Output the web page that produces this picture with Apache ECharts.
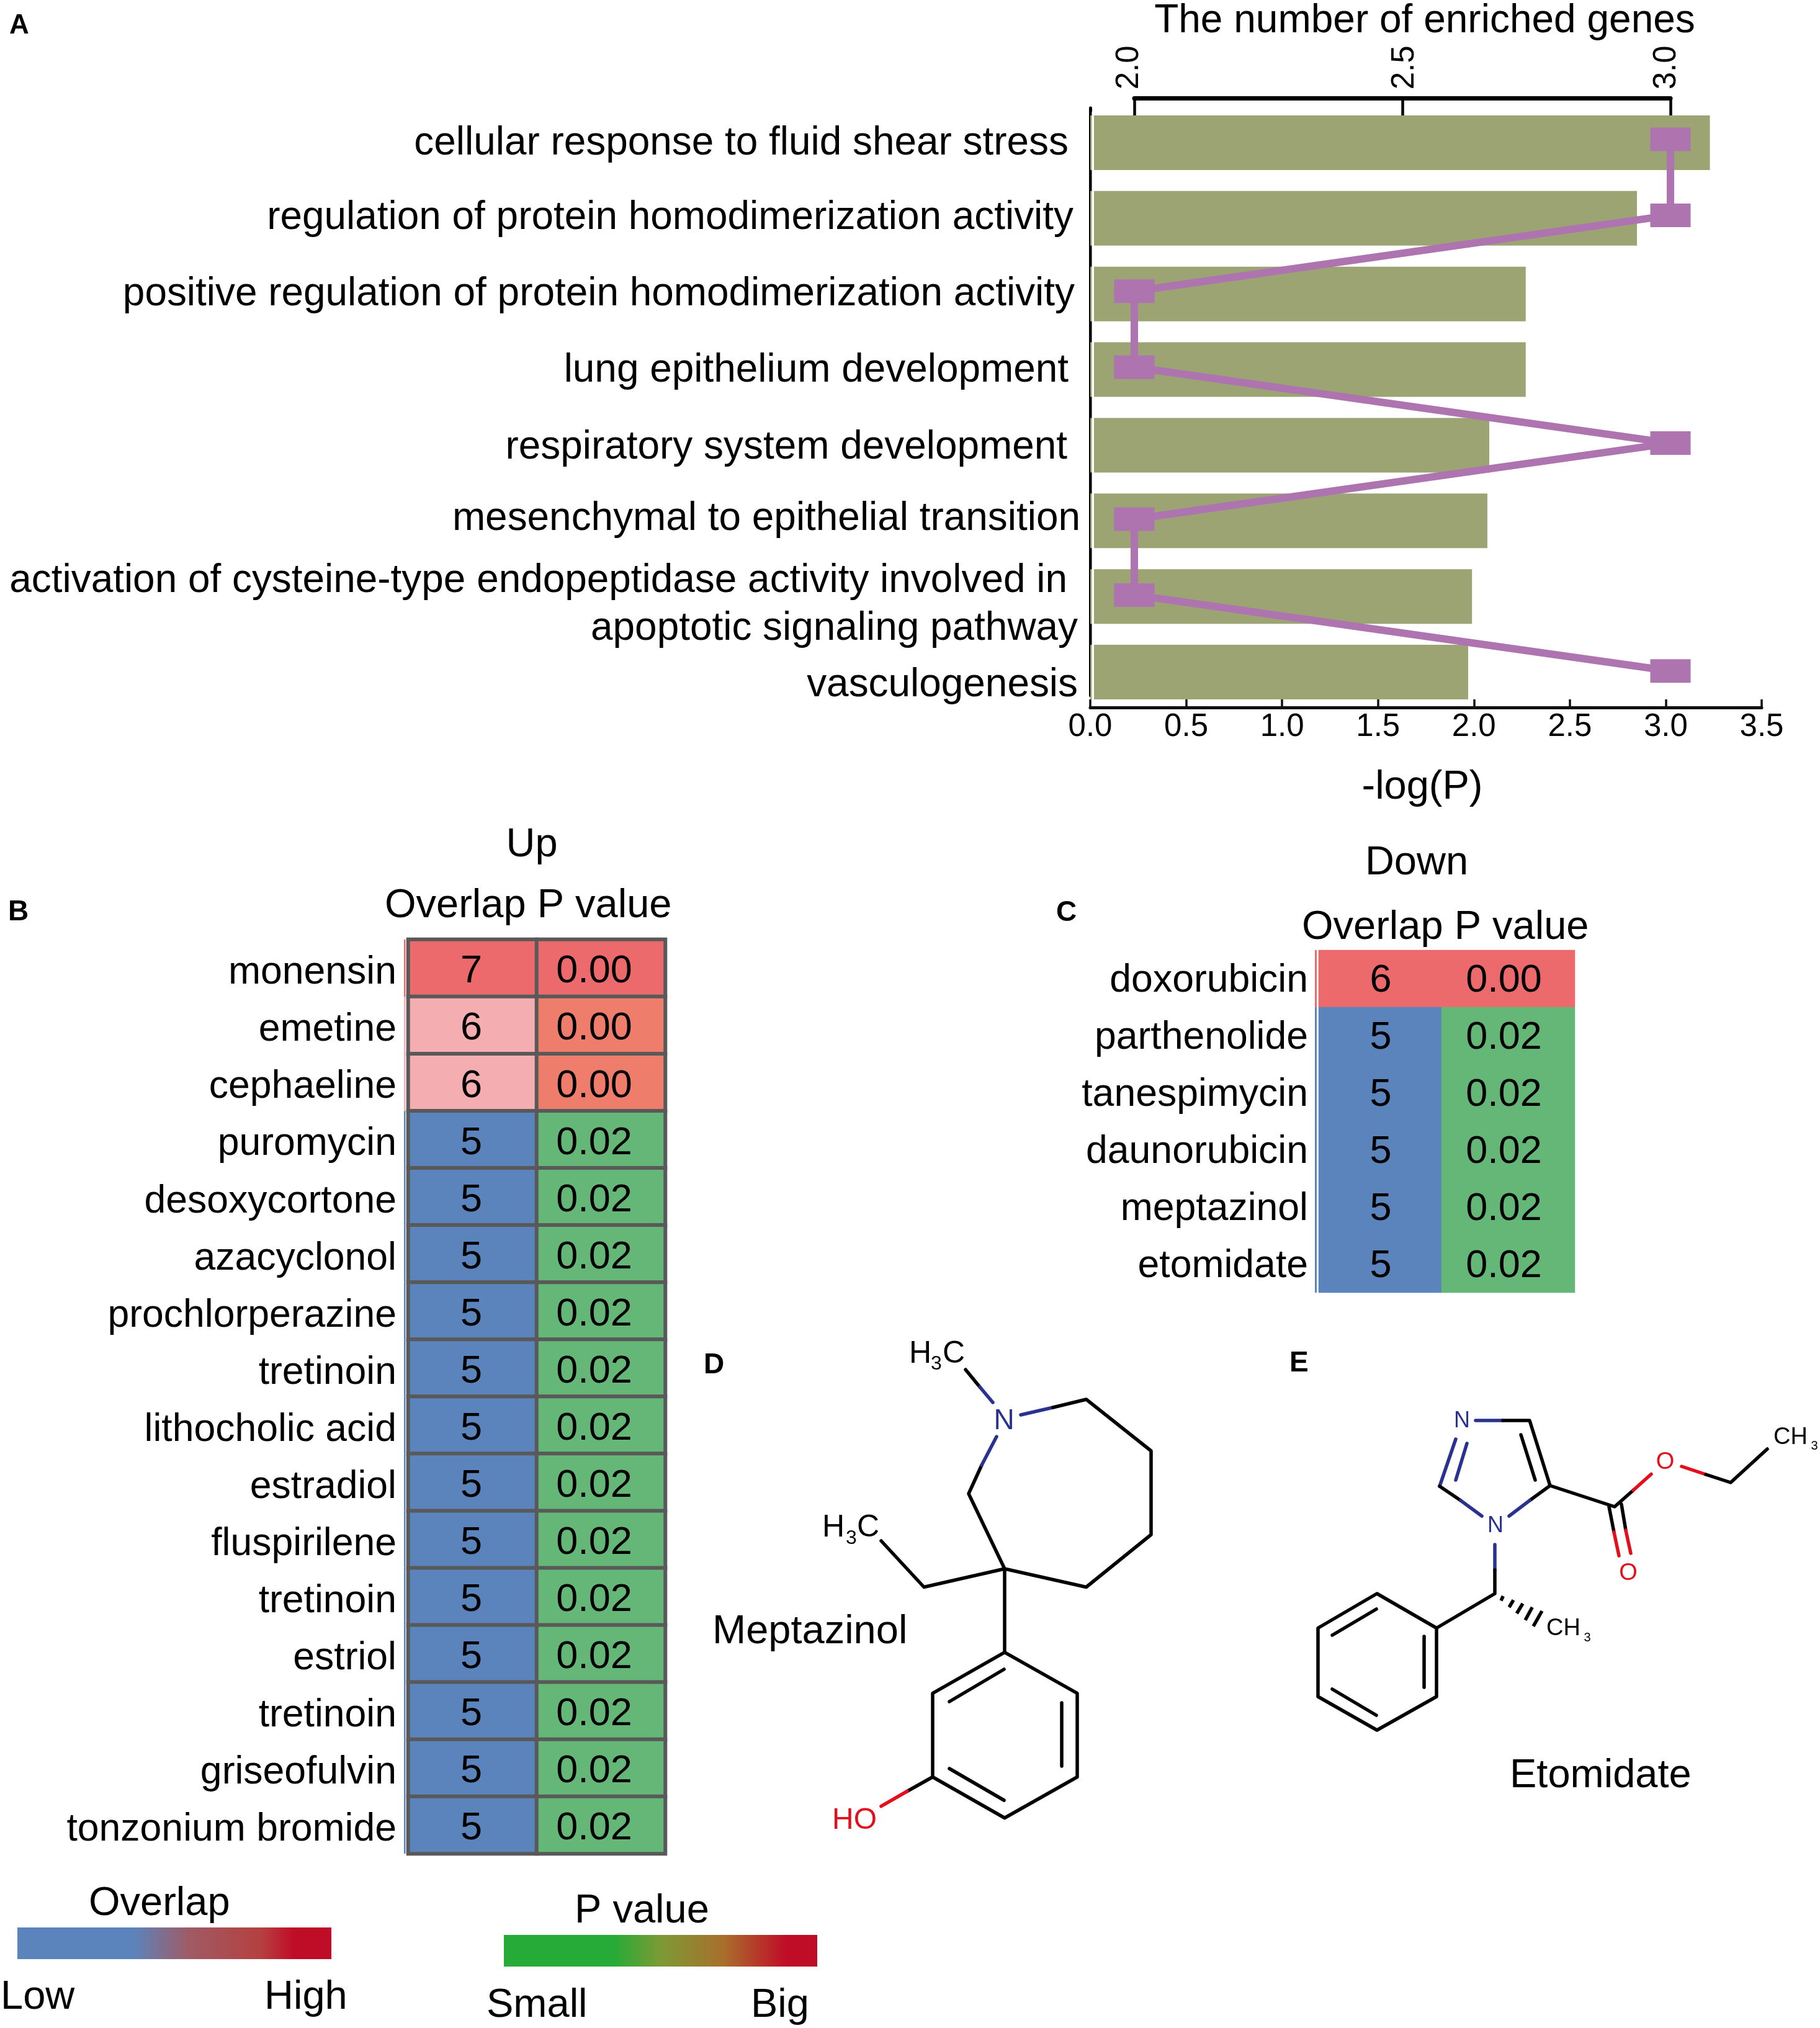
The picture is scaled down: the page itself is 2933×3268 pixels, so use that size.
<!DOCTYPE html>
<html><head><meta charset="utf-8">
<style>html,body{margin:0;padding:0;background:#fff}#c{width:2933px;height:3268px}</style>
<script src="https://cdn.jsdelivr.net/npm/echarts@6/dist/echarts.min.js"></script>
</head><body><div id="c"></div>
<script>
// ---------- data ----------
const goTerms = ["cellular response to fluid shear stress","regulation of protein homodimerization activity","positive regulation of protein homodimerization activity","lung epithelium development","respiratory system development","mesenchymal to epithelial transition","activation of cysteine-type endopeptidase activity involved in\napoptotic signaling pathway","vasculogenesis"];
const negLogP = [3.23,2.85,2.27,2.27,2.08,2.07,1.99,1.97];
const enrichedGenes = [3,3,2,2,3,2,2,3];
const upDrugs = ["monensin","emetine","cephaeline","puromycin","desoxycortone","azacyclonol","prochlorperazine","tretinoin","lithocholic acid","estradiol","fluspirilene","tretinoin","estriol","tretinoin","griseofulvin","tonzonium bromide"];
const upOverlap = [7,6,6,5,5,5,5,5,5,5,5,5,5,5,5,5];
const upP = [0.001,0.004,0.004,0.02,0.02,0.02,0.02,0.02,0.02,0.02,0.02,0.02,0.02,0.02,0.02,0.02];
const downDrugs = ["doxorubicin","parthenolide","tanespimycin","daunorubicin","meptazinol","etomidate"];
const downOverlap = [6,5,5,5,5,5];
const downP = [0.001,0.02,0.02,0.02,0.02,0.02];

// ---------- styles ----------
const FONT = '"Liberation Sans", Arial, sans-serif';
const RED='#ec6a6c', PINK='#f4adb0', BLUE='#5b84bc', GREEN='#65b778', SALMON='#ef7d6b';
const upOverlapColor = {7:RED,6:PINK,5:BLUE};
const downOverlapColor = {6:RED,5:BLUE};
const pColor = v => v<0.002?RED:(v<0.01?SALMON:GREEN);
// per-label nudges of panel A [up, left]
const termNudge = [[-1,19],[0,11],[-1,9],[-2,19],[-4,21],[3,0],[-14,4],[-21,4]];

const chart = echarts.init(document.getElementById('c'),null,{renderer:'canvas'});

function heat(xi,yi,col,vals,colorOf,fmt,dx,dy,size,border){
  return {type:'heatmap',xAxisIndex:xi,yAxisIndex:yi,animation:false,
    itemStyle:border?{borderColor:'#595959',borderWidth:6}:{borderWidth:0},
    emphasis:{disabled:true},
    label:{show:true,color:'#000',fontFamily:FONT,fontSize:size,offset:[dx,dy],formatter:p=>fmt(p.value[2])},
    data:vals.map((v,i)=>({value:[col,i,v],itemStyle:{color:colorOf(v)}}))};
}
function stripe(xi,yi,vals,colorOf,gap,w){
  return {type:'custom',xAxisIndex:xi,yAxisIndex:yi,silent:true,animation:false,
    data:vals.map((v,i)=>[0,i,v]),
    renderItem:(p,api)=>{const c=api.coord([0,api.value(1)]),s=api.size([1,1]);
      return {type:'rect',shape:{x:c[0]-s[0]/2-gap,y:c[1]-s[1]/2,width:w,height:s[1]},style:{fill:colorOf(api.value(2))}};}};
}

// ---------- free graphics: texts + molecules ----------
const g=[];
function T(text,x,y,size,opt){opt=opt||{};g.push({type:'text',z:60,x:x,y:y+size*0.08,style:{text:text,fill:opt.fill||'#000',font:(opt.bold?'bold ':'')+size+'px '+FONT,textAlign:opt.align||'left',textVerticalAlign:'middle'}});}
function L(pts,color,w,cap){g.push({type:'polyline',z:55,shape:{points:pts},style:{stroke:color||'#000',lineWidth:w||5.5,fill:null,lineCap:cap||'round',lineJoin:'round'}});}
const NB='#2a3290', OR='#e30f1a';

T('A',15,38,44,{bold:true});T('B',13,1467,46,{bold:true});T('C',1702,1468,46,{bold:true});T('D',1134,2197,46,{bold:true});T('E',2078,2194,46,{bold:true});
T('Up',857,1357,65,{align:'center'});T('Overlap P value',620,1455,65);
T('Down',2283,1386,65,{align:'center'});T('Overlap P value',2098,1490,65);
T('Overlap',143,3063,65);T('Low',1,3214,65);T('High',426,3214,65);
T('P value',926,3075,65);T('Small',784,3227,65);T('Big',1210,3227,65);
T('Meptazinol',1148,2625,65);T('Etomidate',2433,2857,65);

g.push({type:'rect',z:50,shape:{x:28,y:3106,width:506,height:51},style:{fill:new echarts.graphic.LinearGradient(0,0,1,0,[{offset:0,color:'#5b84bc'},{offset:.37,color:'#5b84bc'},{offset:.55,color:'#a05a64'},{offset:.78,color:'#b53f3f'},{offset:.88,color:'#c00d27'},{offset:1,color:'#c00d27'}])}});
g.push({type:'rect',z:50,shape:{x:812,y:3118,width:505,height:51},style:{fill:new echarts.graphic.LinearGradient(0,0,1,0,[{offset:0,color:'#27ab38'},{offset:.355,color:'#27ab38'},{offset:.5,color:'#7d9a35'},{offset:.7,color:'#a86f2c'},{offset:.9,color:'#c00d27'},{offset:1,color:'#c00d27'}])}});
// keeps the bars clear of the left axis line
g.push({type:'rect',z:50,shape:{x:1759.5,y:180,width:3.5,height:950},style:{fill:'#fff'}});

// Meptazinol
T('H',1465,2178,50);T('3',1500,2196,32);T('C',1519,2178,50);
T('H',1325,2458,50);T('3',1363,2477,32);T('C',1381,2458,50);
T('N',1618,2287,46,{fill:NB,align:'center'});T('HO',1341,2930,48,{fill:OR});
L([[1556,2207],[1579,2235]]);L([[1579,2235],[1600,2260]],NB);
L([[1645,2280],[1697,2268]],NB);L([[1697,2268],[1750.5,2255],[1855,2338],[1855,2473],[1750.5,2557.5],[1619,2528],[1561,2407],[1582,2361]]);
L([[1582,2361],[1606,2315]],NB);
L([[1619,2528],[1489,2557.5],[1420,2483]]);L([[1619,2528],[1619,2662.6]]);
L([[1619,2662.6],[1503,2728.6],[1503,2863.5],[1619,2929.5],[1736,2863.5],[1736,2728.6],[1619,2662.6]]);
L([[1530,2742],[1618,2690]]);L([[1711,2744],[1711,2846]]);L([[1530,2850],[1618,2901]]);
L([[1503,2863.5],[1462,2886.5]]);L([[1462,2886.5],[1420,2910.6]],OR);

// Etomidate
T('N',2356,2287,36,{fill:NB,align:'center'});T('N',2410,2456,36,{fill:NB,align:'center'});
T('O',2624,2532,38,{fill:OR,align:'center'});T('O',2683.5,2353,38,{fill:OR,align:'center'});
T('CH',2492,2621,38);T('3',2558,2638,20,{align:'center'});
T('CH',2858,2313,38);T('3',2924,2329,20,{align:'center'});
L([[2378,2289],[2422,2289]],NB);L([[2422,2289],[2465,2289],[2498,2394],[2465,2418]]);L([[2451,2312],[2474,2385]]);
L([[2465,2418],[2432,2443]],NB);L([[2346,2319],[2320,2395]],NB);L([[2364,2326],[2346,2385]],NB);
L([[2320,2395],[2354,2418]]);L([[2354,2418],[2388,2443]],NB);
L([[2409,2489],[2409,2530]],NB);L([[2409,2530],[2409,2568],[2315,2623.5]]);
L([[2315,2623.5],[2219,2568],[2124,2623.5],[2124,2734],[2219,2788],[2315,2734],[2315,2623.5]]);
L([[2295,2637],[2295,2719]]);L([[2147,2635],[2218,2593]]);L([[2147,2722],[2218,2764]]);
[[2422.3,2572,2419,2579.3],[2439,2578.3,2432,2590],[2454,2584,2444.3,2600],[2469.3,2590,2458,2610.7],[2485,2596,2471,2620.7]].forEach(s=>L([[s[0],s[1]],[s[2],s[3]]],'#000',5.5,'butt'));
L([[2498,2394],[2602,2428],[2632,2401.5]]);L([[2632,2401.5],[2661,2375.5]],OR);
L([[2593,2428],[2601,2469]]);L([[2601,2469],[2609,2507]],OR);
L([[2613,2424],[2620,2466]]);L([[2620,2466],[2628,2503]],OR);
L([[2710,2363],[2749,2376]],OR);L([[2749,2376],[2789,2389],[2848,2335]]);

// ---------- option ----------
const labelBase={fontFamily:FONT,color:'#000'};
const lines=goTerms[6].split('\n');
const gridBase={outerBoundsMode:'none',containLabel:false};
const option={
  backgroundColor:'#fff',animation:false,
  grid:[
    {...gridBase,left:1757,top:169,width:1082,height:975},
    {...gridBase,left:1828,top:163.3,width:864,height:979.2},
    {...gridBase,left:1757,top:174,width:100,height:947},
    {...gridBase,left:658,top:1514,width:414,height:1473},
    {...gridBase,left:2125,top:1531,width:198,height:552},
    {...gridBase,left:2323,top:1531,width:215,height:552}
  ],
  xAxis:[
    {gridIndex:0,type:'value',min:0,max:3.5,interval:.5,offset:-4,splitLine:{show:false},
      axisLine:{show:true,lineStyle:{color:'#111',width:5}},axisTick:{show:true,inside:true,length:13,lineStyle:{color:'#111',width:3.5}},
      axisLabel:{...labelBase,fontSize:51,margin:6,formatter:v=>v.toFixed(1),showMinLabel:true,showMaxLabel:true},
      name:'-log(P)',nameLocation:'middle',nameGap:129,nameTextStyle:{...labelBase,fontSize:65,verticalAlign:'middle',padding:[0,12,0,0]}},
    {gridIndex:1,type:'value',position:'top',min:2,max:3,interval:.5,offset:5,splitLine:{show:false},
      axisLine:{show:true,lineStyle:{color:'#000',width:7}},axisTick:{show:true,inside:true,length:28,lineStyle:{color:'#000',width:4.5}},
      axisLabel:{...labelBase,fontSize:51,rotate:-90,margin:14,showMinLabel:true,showMaxLabel:true,
        formatter:v=>`{${v===2?'a':v===3?'c':'b'}|${v.toFixed(1)}}`,
        rich:{a:{...labelBase,fontSize:51,padding:[0,0,16,0]},b:{...labelBase,fontSize:51,padding:[8,0,0,0]},c:{...labelBase,fontSize:51,padding:[0,0,12,0]}}},
      name:'The number of enriched genes',nameLocation:'middle',nameGap:124,nameTextStyle:{...labelBase,fontSize:64,verticalAlign:'middle',padding:[0,0,0,72]}},
    {gridIndex:2,type:'value',show:false},
    {gridIndex:3,type:'category',data:['Overlap','P value'],show:false},
    {gridIndex:4,type:'category',data:['Overlap'],show:false},
    {gridIndex:5,type:'category',data:['P value'],show:false}
  ],
  yAxis:[
    {gridIndex:0,type:'category',inverse:true,
      data:goTerms.map((t,i)=>({value:t,textStyle:{padding:[termNudge[i][0]<0?-2*termNudge[i][0]:0,termNudge[i][1],termNudge[i][0]>0?2*termNudge[i][0]:0,0]}})),
      axisLine:{show:false},axisTick:{show:false},
      axisLabel:{...labelBase,fontSize:63.9,margin:16,interval:0,
        formatter:(v,i)=>i===6?`{a|${lines[0]}}\n{b|${lines[1]}}`:v,
        rich:{a:{...labelBase,fontSize:63.9,lineHeight:77,padding:[0,17,0,0]},b:{...labelBase,fontSize:63.9,lineHeight:77}}}},
    {gridIndex:1,type:'category',inverse:true,data:goTerms,show:false},
    {gridIndex:2,type:'category',inverse:true,data:goTerms,
      axisLine:{show:true,lineStyle:{color:'#000',width:5}},axisLabel:{show:false},
      axisTick:{show:true,inside:true,length:6,alignWithLabel:true,lineStyle:{color:'#000',width:4}}},
    {gridIndex:3,type:'category',inverse:true,data:upDrugs.map(v=>({value:v,textStyle:{padding:[16,0,0,0]}})),axisLine:{show:false},axisTick:{show:false},
      axisLabel:{...labelBase,fontSize:62.5,margin:19,interval:0,rich:{d:{...labelBase}}}},
    {gridIndex:4,type:'category',inverse:true,data:downDrugs.map(v=>({value:v,textStyle:{padding:[8,0,0,0]}})),axisLine:{show:false},axisTick:{show:false},
      axisLabel:{...labelBase,fontSize:62.5,margin:17,interval:0,rich:{d:{...labelBase}}}},
    {gridIndex:5,type:'category',inverse:true,data:downDrugs,show:false}
  ],
  series:[
    {type:'bar',name:'-log(P)',xAxisIndex:0,yAxisIndex:0,data:negLogP,barWidth:88,itemStyle:{color:'#9ca474'},silent:true},
    {type:'line',name:'The number of enriched genes',xAxisIndex:1,yAxisIndex:1,data:enrichedGenes,symbol:'rect',symbolSize:[65,38],z:5,
      lineStyle:{color:'#ae74b0',width:12},itemStyle:{color:'#ae74b0'},silent:true},
    heat(3,3,0,upOverlap,v=>upOverlapColor[v],v=>String(v),-2,6,63,true),
    heat(3,3,1,upP,pColor,v=>v.toFixed(2),-11,6,63,true),
    stripe(3,3,upOverlap,v=>upOverlapColor[v],7,2.5),
    heat(4,4,0,downOverlap,v=>downOverlapColor[v],v=>String(v),1,4,63,false),
    heat(5,5,0,downP,pColor,v=>v.toFixed(2),-7,4,63,false),
    stripe(4,4,downOverlap,v=>downOverlapColor[v],6,3)
  ],
  graphic:{elements:g}
};
chart.setOption(option);
</script></body></html>
